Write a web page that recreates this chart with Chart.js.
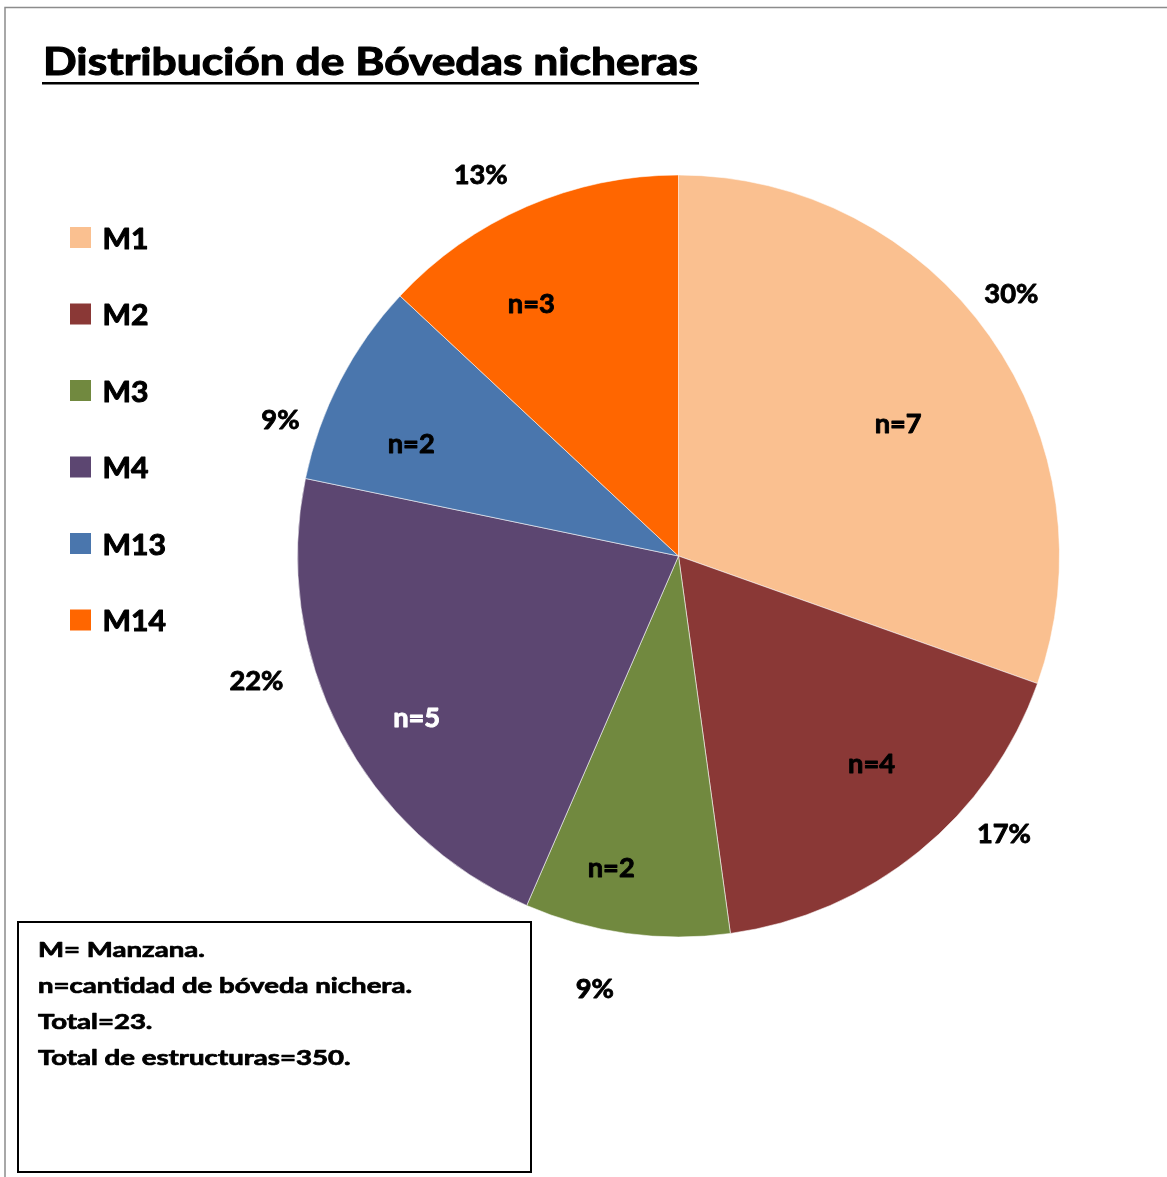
<!DOCTYPE html>
<html><head><meta charset="utf-8">
<script src="https://cdn.jsdelivr.net/npm/chart.js@4.4.1/dist/chart.umd.min.js"></script>
<style>html,body{margin:0;padding:0;background:#fff}canvas{display:block}</style>
</head><body>
<canvas id="c" width="1167" height="1177" style="width:1167px;height:1177px"></canvas>
<script>
// ---- data ----
const categories = ['M1', 'M2', 'M3', 'M4', 'M13', 'M14'];
const counts = [7, 4, 2, 5, 2, 3];
const countLabels = ['n=7', 'n=4', 'n=2', 'n=5', 'n=2', 'n=3'];
const titleText = 'Distribución de Bóvedas nicheras';
const noteLines = ['M= Manzana.', 'n=cantidad de bóveda nichera.', 'Total=23.', 'Total de estructuras=350.'];

// ---- style ----
const FONT = 'Lato, "Open Sans", sans-serif';
const sliceColors = ['#FAC090', '#8A3836', '#71893F', '#5C4671', '#4A76AD', '#FF6600'];
const insideTextColors = ['#000', '#000', '#000', '#fff', '#000', '#000'];
// where inside each slice the labels sit: f = fraction of the slice angle, r = fraction of radius
const insidePlace = [{f:0.538,r:0.673},{f:0.438,r:0.743},{f:0.64,r:0.835},{f:0.446,r:0.807},{f:0.353,r:0.761},{f:0.357,r:0.768}];
const outsidePlace = [{f:0.472,r:1.113},{f:0.334,r:1.123},{f:0.60,r:1.157},{f:0.64,r:1.155},{f:0.232,r:1.105},{f:0.417,r:1.129}];

const total = counts.reduce((a, b) => a + b, 0);
const percentLabels = counts.map(v => Math.round(v / total * 100) + '%');

function fitScale(ctx, size, sample, target) {
  ctx.font = 'bold ' + size + 'px ' + FONT;
  return target / ctx.measureText(sample).width;
}
function drawText(ctx, s, x, y, size, color, align, kx, weight) {
  ctx.save();
  ctx.font = 'bold ' + size + 'px ' + FONT;
  ctx.fillStyle = color;
  ctx.strokeStyle = color;
  ctx.lineWidth = weight;
  ctx.lineJoin = 'round';
  ctx.textBaseline = 'alphabetic';
  const w = ctx.measureText(s).width * kx;
  let left = x;
  if (align === 'center') left = x - w / 2;
  ctx.translate(left, y);
  ctx.scale(kx, 1);
  ctx.textAlign = 'left';
  ctx.fillText(s, 0, 0);
  if (weight > 0) ctx.strokeText(s, 0, 0);
  ctx.restore();
}

const decor = {
  id: 'decor',
  beforeDraw(chart) {
    const ctx = chart.ctx;
    ctx.save();
    ctx.fillStyle = '#fff';
    ctx.fillRect(0, 0, chart.width, chart.height);
    // outer frame (left + top)
    ctx.strokeStyle = '#8c8c8c';
    ctx.lineWidth = 1.5;
    ctx.beginPath();
    ctx.moveTo(5, chart.height);
    ctx.lineTo(5, 7.5);
    ctx.lineTo(chart.width, 7.5);
    ctx.stroke();
    ctx.restore();
  },
  afterDraw(chart) {
    const ctx = chart.ctx;
    // title
    const tk = fitScale(ctx, 38, titleText, 655);
    drawText(ctx, titleText, 43, 75, 38, '#000', 'left', tk, 1.1);
    ctx.save();
    ctx.fillStyle = '#000';
    ctx.fillRect(42, 82, 657, 2.5);
    ctx.restore();

    // legend
    const lk = fitScale(ctx, 29, 'M1', 46);
    categories.forEach((c, i) => {
      const cy = 237.5 + i * 76.5;
      ctx.fillStyle = sliceColors[i];
      ctx.fillRect(70, cy - 10.5, 21, 21);
      drawText(ctx, c, 102.5, cy + 11, 29, '#000', 'left', lk, 1.0);
    });

    // pie labels
    const pk = fitScale(ctx, 27, '22%', 54);
    const capH = 27 * 0.7165;
    const meta = chart.getDatasetMeta(0);
    meta.data.forEach((arc, i) => {
      const p = arc.getProps(['x', 'y', 'startAngle', 'endAngle', 'outerRadius'], true);
      const span = p.endAngle - p.startAngle;
      const ai = p.startAngle + span * insidePlace[i].f;
      const ri = p.outerRadius * insidePlace[i].r;
      drawText(ctx, countLabels[i], p.x + Math.cos(ai) * ri, p.y + Math.sin(ai) * ri + capH / 2, 27, insideTextColors[i], 'center', pk, 0.9);
      const ao = p.startAngle + span * outsidePlace[i].f;
      const ro = p.outerRadius * outsidePlace[i].r;
      drawText(ctx, percentLabels[i], p.x + Math.cos(ao) * ro, p.y + Math.sin(ao) * ro + capH / 2, 27, '#000', 'center', pk, 0.9);
    });

    // notes box
    ctx.save();
    ctx.strokeStyle = '#000';
    ctx.lineWidth = 2;
    ctx.strokeRect(18, 922, 513, 250);
    ctx.restore();
    const nk = fitScale(ctx, 20, noteLines[1], 374);
    noteLines.forEach((t, i) => drawText(ctx, t, 38, 957 + i * 36, 20, '#000', 'left', nk, 0.7));
  }
};

new Chart(document.getElementById('c'), {
  type: 'pie',
  data: {
    labels: categories,
    datasets: [{
      data: counts,
      backgroundColor: sliceColors,
      borderColor: 'rgba(255,255,255,0.55)',
      borderWidth: 1
    }]
  },
  options: {
    responsive: false,
    animation: false,
    devicePixelRatio: 1,
    layout: { padding: { left: 297, right: 107, top: 174, bottom: 239 } },
    plugins: { legend: { display: false }, tooltip: { enabled: false }, title: { display: false } }
  },
  plugins: [decor]
});
</script>
</body></html>
